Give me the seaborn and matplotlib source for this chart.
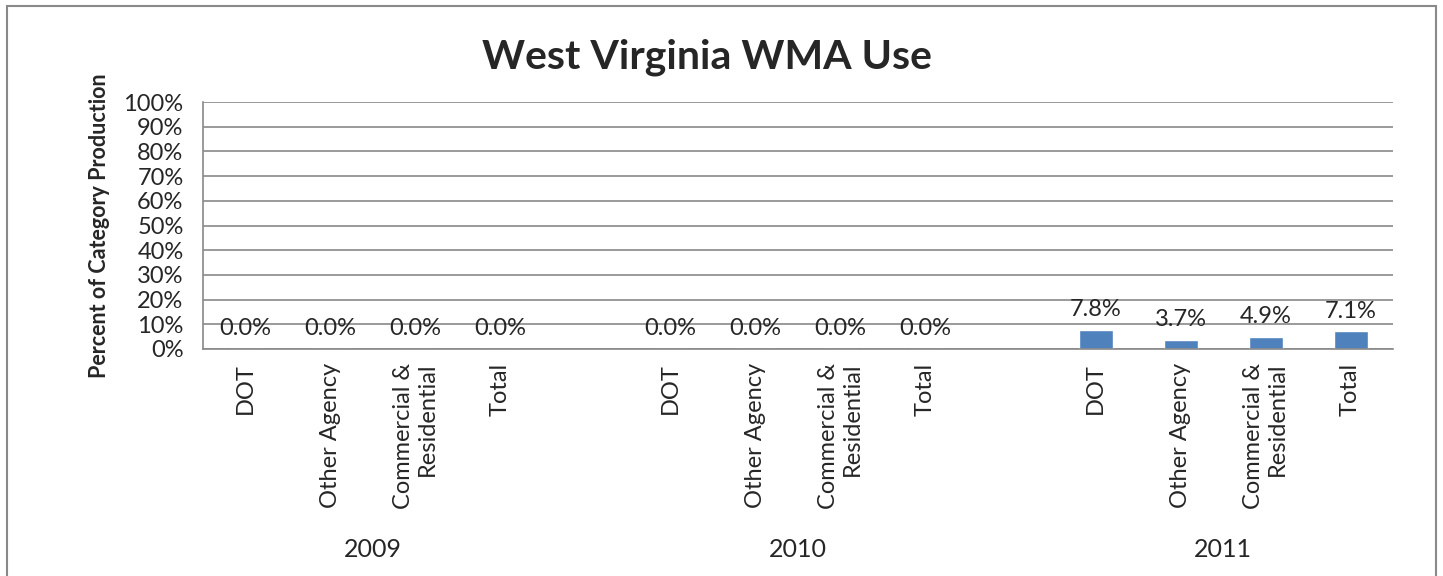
import pandas as pd
import matplotlib.pyplot as plt
import seaborn as sns
from matplotlib.patches import Rectangle
from matplotlib.transforms import blended_transform_factory

# -----------------------------
# Data
# -----------------------------
years = ["2009", "2010", "2011"]
categories = ["DOT", "Other Agency", "Commercial &\nResidential", "Total"]
share_2009 = [0.0, 0.0, 0.0, 0.0]
share_2010 = [0.0, 0.0, 0.0, 0.0]
share_2011 = [0.078, 0.037, 0.049, 0.071]
y_ticks = [0, 0.1, 0.2, 0.3, 0.4, 0.5, 0.6, 0.7, 0.8, 0.9, 1.0]

rows = []
for year, vals in zip(years, [share_2009, share_2010, share_2011]):
    for cat, v in zip(categories, vals):
        rows.append({"slot": f"{year}|{cat}", "year": year, "category": cat, "share": v})
df = pd.DataFrame(rows)

# slot order with one empty slot between the years
order = []
for i, year in enumerate(years):
    order += [f"{year}|{c}" for c in categories]
    if i < len(years) - 1:
        order.append(f"gap{i}")

# -----------------------------
# Style
# -----------------------------
sns.set_style("white")
plt.rcParams["font.family"] = ["Lato", "DejaVu Sans"]

grey = "#898989"
bar_color = "#4F81BD"

fig = plt.figure(figsize=(14.43, 5.76), dpi=100)
ax = fig.add_axes([0.1407, 0.3941, 0.8247, 0.4288])

sns.barplot(data=df, x="slot", y="share", order=order, color=bar_color,
            width=0.4, saturation=1, ax=ax, errorbar=None)

ax.set_xlim(-0.5, len(order) - 0.5)
ax.set_ylim(0, 1)
ax.set_yticks(y_ticks)
ax.set_yticklabels([f"{int(round(t * 100))}%" for t in y_ticks], fontsize=17)
ax.yaxis.grid(True, color=grey, linewidth=1.2)
ax.set_axisbelow(True)

# category labels at centres, tick marks at slot boundaries
labels = [s.split("|")[1] if "|" in s else "" for s in order]
ax.set_xticks(range(len(order)))
ax.set_xticklabels(labels, rotation=90, fontsize=17, va="top", ha="center",
                   linespacing=1.2, multialignment="right")
ax.set_xticks([i - 0.5 for i in range(len(order) + 1)], minor=True)
ax.tick_params(axis="x", which="major", length=0, pad=10)
ax.tick_params(axis="x", which="minor", length=8, color=grey, width=1.2)
ax.tick_params(axis="y", length=8, color=grey, width=1.2, pad=6)

for side in ["top", "right"]:
    ax.spines[side].set_visible(False)
for side in ["left", "bottom"]:
    ax.spines[side].set_color(grey)
    ax.spines[side].set_linewidth(1.2)

ax.set_xlabel("")
ax.set_ylabel("Percent of Category Production", fontsize=15.5, fontweight="bold",
              labelpad=10)

# data labels
for bar in ax.patches:
    h = bar.get_height()
    ax.annotate(f"{h:.1%}", (bar.get_x() + bar.get_width() / 2, h),
                xytext=(0, 7), textcoords="offset points",
                ha="center", va="bottom", fontsize=17)

# year labels under each group
trans = blended_transform_factory(ax.transData, ax.transAxes)
for i, year in enumerate(years):
    centre = i * 5 + 1.5
    ax.text(centre, -0.81, year, transform=trans, ha="center", va="center",
            fontsize=18)

fig.text(707 / 1443, 1 - 57 / 576, "West Virginia WMA Use", ha="center",
         va="center", fontsize=29.5, fontweight="bold")

# chart area frame
fig.patches.append(Rectangle((7 / 1443, -0.02), 1429 / 1443, 1.02 - 6 / 576,
                             transform=fig.transFigure, fill=False,
                             edgecolor=grey, linewidth=1.5))

fig.savefig("out.png", dpi=100)
plt.close()
